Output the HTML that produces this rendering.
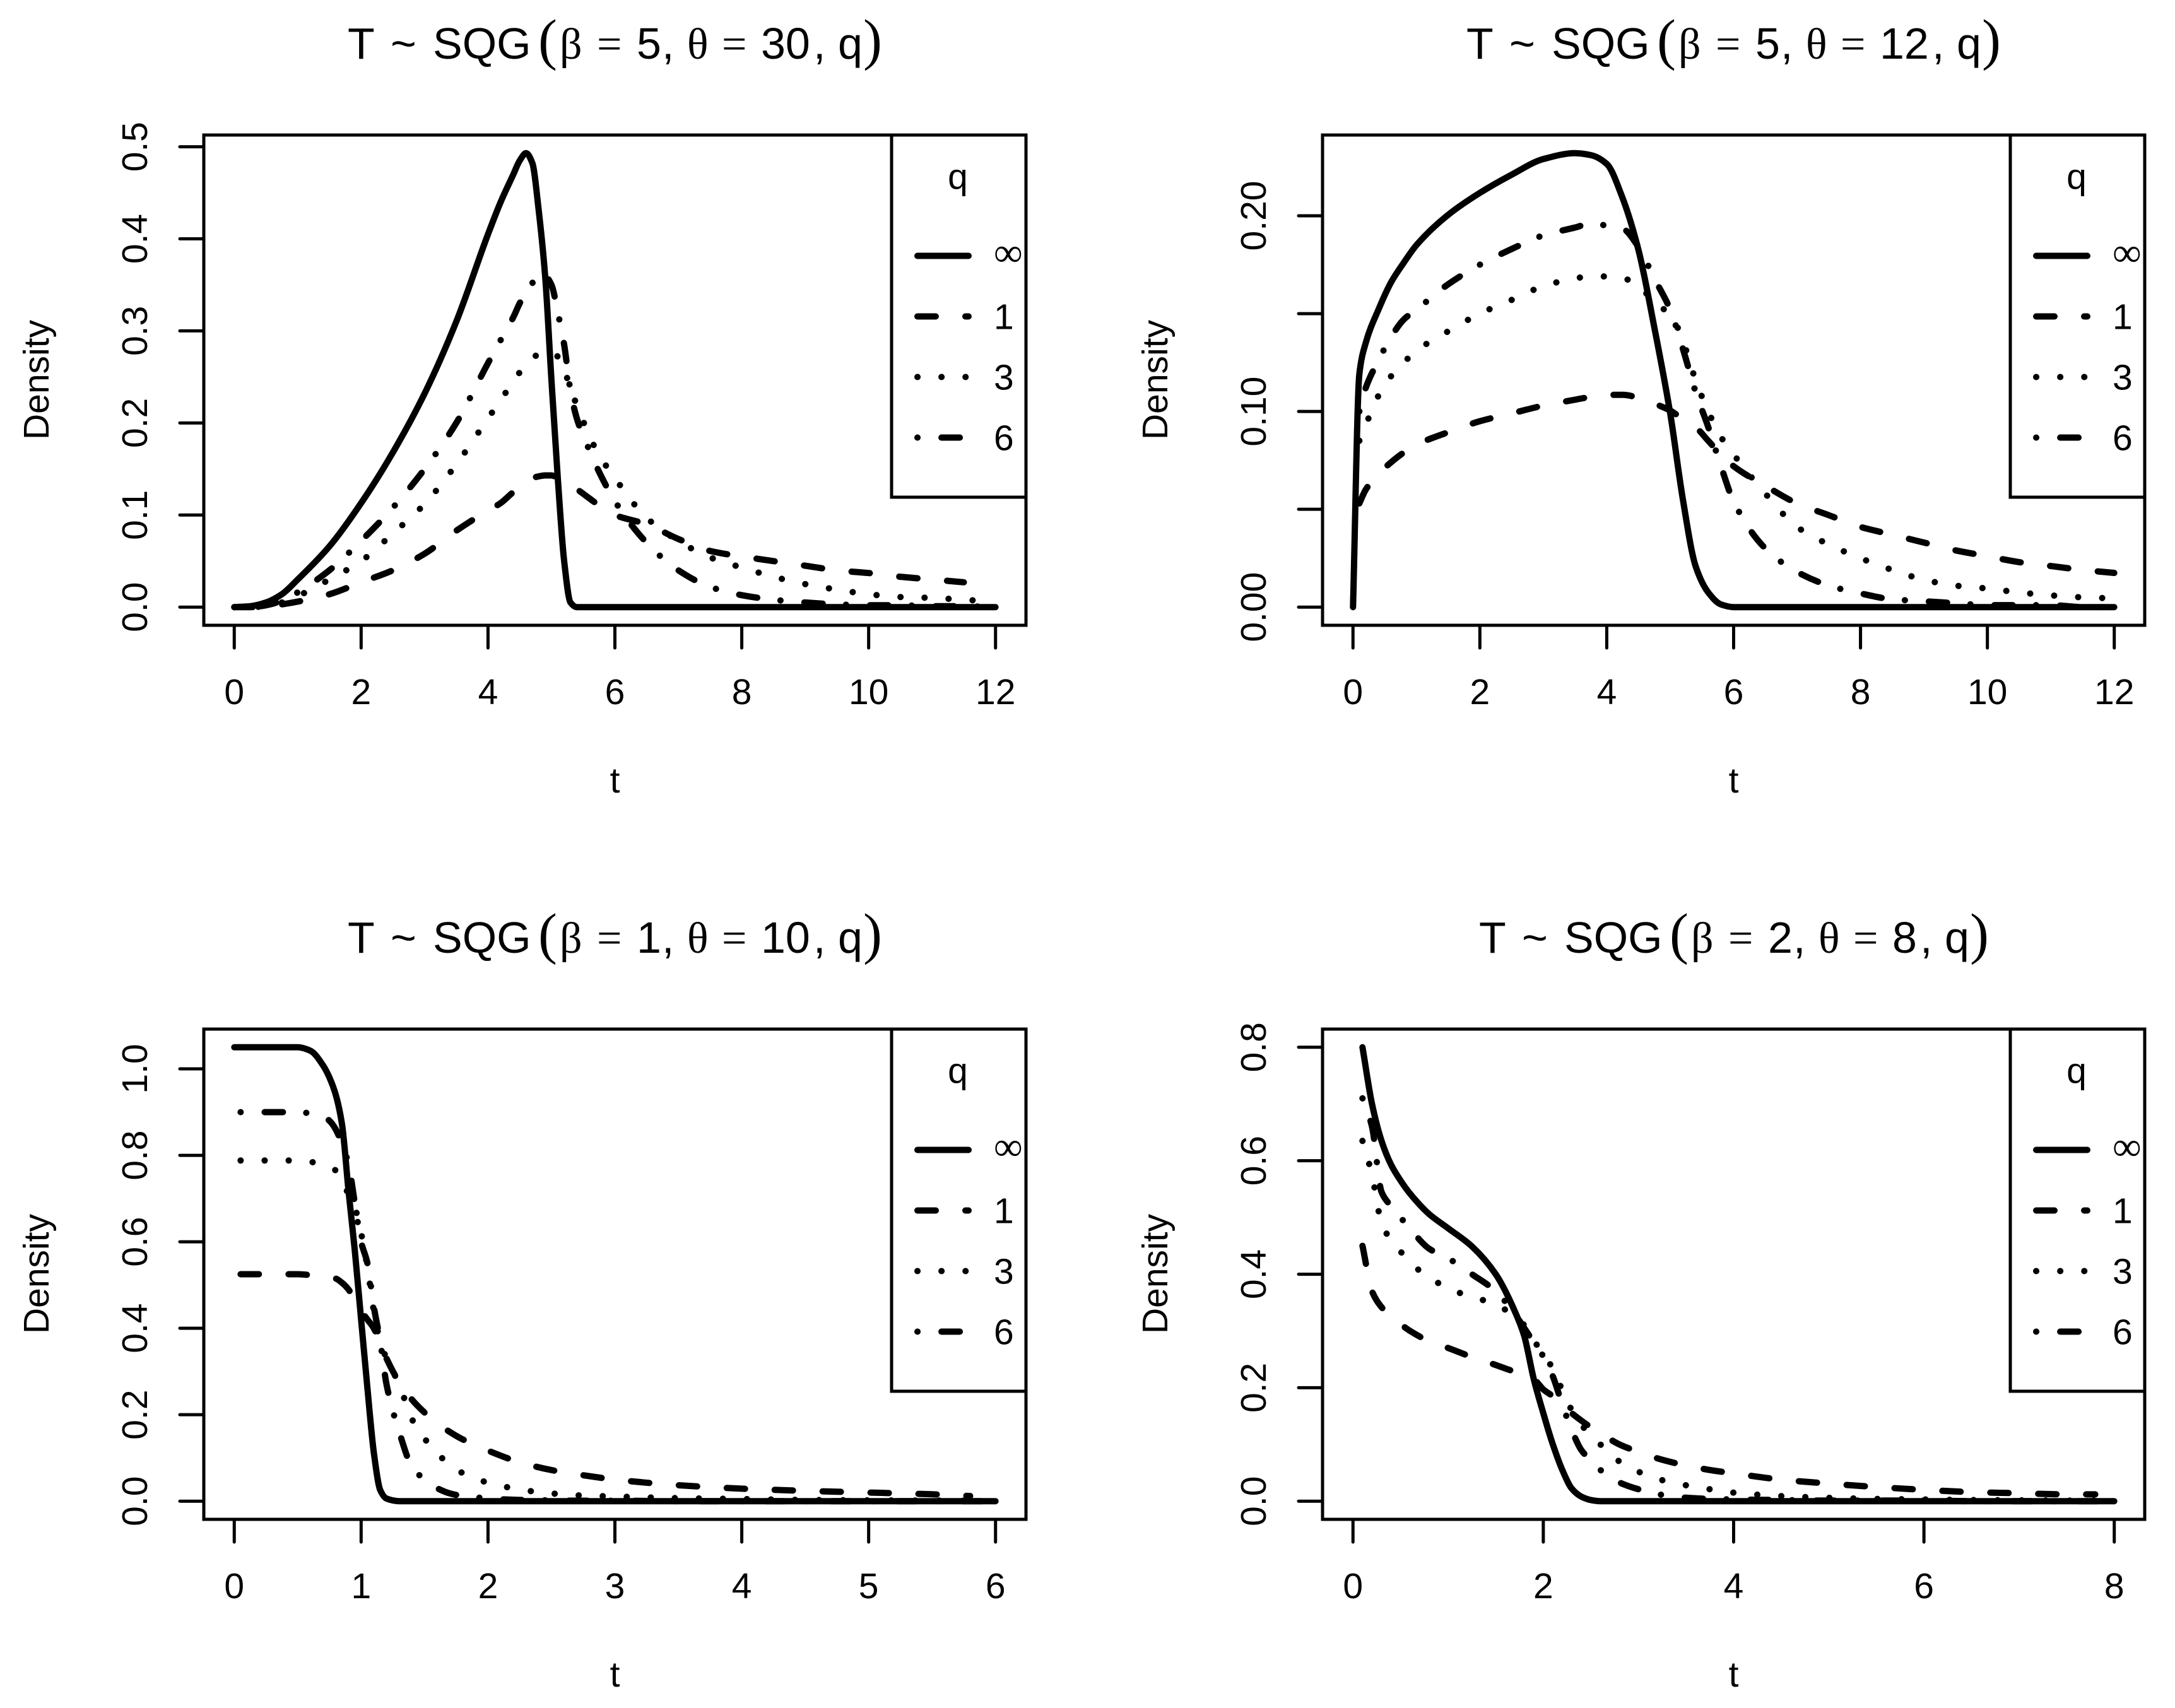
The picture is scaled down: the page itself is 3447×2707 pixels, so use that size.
<!DOCTYPE html>
<html lang="en">
<head>
<meta charset="utf-8">
<title>SQG density curves</title>
<style>
html,body{margin:0;padding:0;background:#fff;}
svg{display:block;}
text{font-family:"Liberation Sans",sans-serif;fill:#000;}
.title{font-size:70px;}
.sym{font-family:"Liberation Serif",serif;}
.paren{font-family:"Liberation Serif",serif;font-size:90px;}
.lab{font-size:57px;}
.inf{font-family:"Liberation Serif",serif;font-size:64px;}
</style>
</head>
<body>
<svg id="fig" xmlns="http://www.w3.org/2000/svg" width="3447" height="2707" viewBox="0 0 3447 2707">
<rect width="3447" height="2707" fill="#fff"/>

<g id="panel-0" transform="translate(0,0)">
<text class="title" y="93"><tspan x="551">T</tspan><tspan x="619">~</tspan><tspan x="686">SQG</tspan><tspan x="853" class="paren">(</tspan><tspan x="887" class="sym">β</tspan><tspan x="946" class="sym">=</tspan><tspan x="1009">5</tspan><tspan x="1049">,</tspan><tspan x="1089" class="sym">θ</tspan><tspan x="1144" class="sym">=</tspan><tspan x="1206">30</tspan><tspan x="1289">,</tspan><tspan x="1328">q</tspan><tspan x="1368" class="paren">)</tspan></text>
<text class="lab" x="974.5" y="1256" text-anchor="middle">t</text>
<text class="lab" transform="translate(77,602) rotate(-90)" text-anchor="middle">Density</text>
</g>

<g id="panel-1" transform="translate(1773,0)">
<text class="title" y="93"><tspan x="551">T</tspan><tspan x="619">~</tspan><tspan x="686">SQG</tspan><tspan x="853" class="paren">(</tspan><tspan x="887" class="sym">β</tspan><tspan x="946" class="sym">=</tspan><tspan x="1009">5</tspan><tspan x="1049">,</tspan><tspan x="1089" class="sym">θ</tspan><tspan x="1144" class="sym">=</tspan><tspan x="1206">12</tspan><tspan x="1289">,</tspan><tspan x="1328">q</tspan><tspan x="1368" class="paren">)</tspan></text>
<text class="lab" x="974.5" y="1256" text-anchor="middle">t</text>
<text class="lab" transform="translate(77,602) rotate(-90)" text-anchor="middle">Density</text>
</g>

<g id="panel-2" transform="translate(0,1417)">
<text class="title" y="93"><tspan x="551">T</tspan><tspan x="619">~</tspan><tspan x="686">SQG</tspan><tspan x="853" class="paren">(</tspan><tspan x="887" class="sym">β</tspan><tspan x="946" class="sym">=</tspan><tspan x="1009">1</tspan><tspan x="1049">,</tspan><tspan x="1089" class="sym">θ</tspan><tspan x="1144" class="sym">=</tspan><tspan x="1206">10</tspan><tspan x="1289">,</tspan><tspan x="1328">q</tspan><tspan x="1368" class="paren">)</tspan></text>
<text class="lab" x="974.5" y="1256" text-anchor="middle">t</text>
<text class="lab" transform="translate(77,602) rotate(-90)" text-anchor="middle">Density</text>
</g>

<g id="panel-3" transform="translate(1773,1417)">
<text class="title" y="93"><tspan x="571">T</tspan><tspan x="639">~</tspan><tspan x="706">SQG</tspan><tspan x="873" class="paren">(</tspan><tspan x="907" class="sym">β</tspan><tspan x="966" class="sym">=</tspan><tspan x="1029">2</tspan><tspan x="1069">,</tspan><tspan x="1109" class="sym">θ</tspan><tspan x="1164" class="sym">=</tspan><tspan x="1226">8</tspan><tspan x="1270">,</tspan><tspan x="1309">q</tspan><tspan x="1349" class="paren">)</tspan></text>
<text class="lab" x="974.5" y="1256" text-anchor="middle">t</text>
<text class="lab" transform="translate(77,602) rotate(-90)" text-anchor="middle">Density</text>
</g>
</svg>

<script>
// Panel 1: beta=5, theta=30
const p0T = [0,.25,.5,.75,1,1.5,2,2.5,3,3.5,4,4.2,4.4,4.5,4.6,4.7,4.8,4.9,5,5.1,5.2,5.3,5.4,5.6,5.8,6,6.5,7,7.5,8,8.5,9,9.5,10,10.5,11,11.5,12];
const p0Inf = [0,.001,.005,.014,.03,.066,.113,.168,.232,.31,.405,.44,.47,.485,.493,.482,.43,.36,.246,.14,.05,.005,0,0,0,0,0,0,0,0,0,0,0,0,0,0,0,0];
const p0Q1 = [0,0,.001,.003,.006,.014,.027,.04,.058,.083,.105,.113,.125,.13,.135,.14,.142,.143,.143,.14,.136,.132,.128,.118,.108,.10,.09,.074,.061,.055,.05,.045,.04,.037,.033,.03,.027,null];
const p0Q3 = [0,0,.001,.005,.012,.03,.05,.08,.112,.155,.205,.225,.245,.255,.263,.27,.275,.277,.277,.272,.26,.235,.22,.185,.16,.14,.097,.072,.054,.043,.033,.025,.019,.014,.011,.01,.008,.006];
const p0Q6 = [0,0,.002,.007,.016,.04,.072,.108,.15,.2,.265,.29,.315,.33,.342,.352,.363,.36,.35,.32,.285,.235,.205,.17,.14,.115,.07,.04,.022,.013,.008,.005,.003,.002,.002,.001,.001,0];
// Panel 2: beta=5, theta=12
const p1T = [0,.1,.2,.4,.6,.8,1,1.5,2,2.5,3,3.5,3.75,4,4.25,4.5,4.75,5,5.2,5.4,5.6,5.8,6,6.5,7,7.5,8,8.5,9,9.5,10,10.5,11,11.5,12];
const p1Inf = [0,.119,.135,.152,.166,.176,.185,.2005,.2117,.221,.229,.232,.231,.2265,.209,.1825,.143,.099,.055,.021,.0075,.0014,0,0,0,0,0,0,0,0,0,0,0,0,0];
const p1Q1 = [null,.053,.06,.068,.074,.079,.083,.0894,.095,.099,.103,.106,.1075,.1085,.1085,.107,.104,.1005,.096,.092,.085,.078,.072,.062,.053,.047,.041,.037,.033,.029,.026,.023,.021,.019,.0175];
const p1Q3 = [null,.085,.093,.108,.118,.125,.131,.141,.15,.157,.164,.168,.169,.169,.168,.165,.155,.15,.136,.116,.10,.087,.078,.058,.041,.032,.025,.019,.014,.011,.0095,.0075,.006,.005,.0045];
const p1Q6 = [null,.1,.112,.126,.138,.147,.152,.165,.175,.183,.19,.194,.196,.195,.1935,.184,.168,.152,.132,.11,.092,.072,.054,.03,.018,.011,.007,.004,.003,.002,.001,.001,.001,0,0];
// Panel 3: beta=1, theta=10
const p2T = [0,.05,.3,.5,.6,.7,.75,.8,.85,.9,.95,1,1.05,1.1,1.15,1.2,1.3,1.4,1.5,1.6,1.7,1.8,1.9,2,2.25,2.5,2.75,3,3.5,4,4.5,5,5.5,5.8,6];
const p2Inf = [1.05,1.05,1.05,1.05,1.042,1.008,.98,.94,.87,.72,.58,.42,.26,.113,.026,.006,0,0,0,0,0,0,0,0,0,0,0,0,0,0,0,0,0,0,0];
const p2Q1 = [null,.525,.525,.525,.523,.52,.518,.515,.505,.49,.465,.44,.42,.40,.365,.33,.275,.235,.205,.18,.16,.143,.13,.117,.09,.072,.06,.05,.037,.029,.024,.02,.016,.012,null];
const p2Q3 = [null,.788,.788,.788,.785,.778,.772,.765,.74,.71,.68,.62,.54,.44,.37,.33,.27,.19,.145,.11,.085,.065,.052,.043,.027,.018,.013,.011,.007,.005,.003,.002,.0015,.001,null];
const p2Q6 = [null,.9,.9,.9,.897,.89,.88,.86,.825,.78,.69,.60,.55,.45,.37,.27,.16,.08,.05,.03,.018,.012,.009,.006,.003,.002,.001,.001,0,0,0,0,0,0,0];
// Panel 4: beta=2, theta=8
const p3T = [.1,.2,.3,.4,.5,.6,.8,1,1.25,1.5,1.7,1.8,1.9,2,2.1,2.2,2.3,2.4,2.5,2.6,2.8,3,3.25,3.5,3.75,4,4.5,5,5.5,6,6.5,7,7.5,7.8,8];
const p3Inf = [.8,.70,.635,.593,.565,.542,.506,.481,.449,.40,.335,.291,.215,.155,.10,.055,.022,.008,.002,0,0,0,0,0,0,0,0,0,0,0,0,0,0,0,0];
const p3Q1 = [.45,.37,.342,.325,.312,.30,.282,.27,.254,.24,.228,.222,.215,.197,.185,.17,.155,.142,.13,.12,.10,.087,.073,.063,.055,.049,.038,.031,.025,.02,.016,.014,.012,.012,null];
const p3Q3 = [.635,.575,.49,.46,.44,.42,.395,.375,.36,.347,.325,.31,.285,.255,.235,.195,.16,.135,.115,.10,.07,.052,.037,.028,.021,.015,.009,.006,.004,.003,.002,.0015,.001,.001,null];
const p3Q6 = [.71,.66,.545,.52,.50,.48,.445,.428,.40,.37,.33,.305,.28,.255,.22,.17,.125,.09,.072,.055,.033,.021,.011,.006,.004,.003,.002,.001,.001,.001,0,0,0,0,0];

// Axis ticks and labels
const p0XTicks = [0,2,4,6,8,10,12];
const p1XTicks = [0,2,4,6,8,10,12];
const p2XTicks = [0,1,2,3,4,5,6];
const p3XTicks = [0,2,4,6,8];
const p0YTicks = [0,.1,.2,.3,.4,.5];
const p1YTicks = [0,.05,.1,.15,.2];
const p2YTicks = [0,.2,.4,.6,.8,1];
const p3YTicks = [0,.2,.4,.6,.8];
const p0YLabels = ["0.0","0.1","0.2","0.3","0.4","0.5"];
const p1YLabels = ["0.00","","0.10","","0.20"];
const p2YLabels = ["0.0","0.2","0.4","0.6","0.8","1.0"];
const p3YLabels = ["0.0","0.2","0.4","0.6","0.8"];
const xMaxes = [12,12,6,8];
const yMaxes = [.493,.232,1.05,.8];
const legendLabels = ["∞","1","3","6"];
const seriesNames = ["q-infinity","q-1","q-3","q-6"];

const panels = [
  {t:p0T, s:[p0Inf,p0Q1,p0Q3,p0Q6], xt:p0XTicks, yt:p0YTicks, yl:p0YLabels},
  {t:p1T, s:[p1Inf,p1Q1,p1Q3,p1Q6], xt:p1XTicks, yt:p1YTicks, yl:p1YLabels},
  {t:p2T, s:[p2Inf,p2Q1,p2Q3,p2Q6], xt:p2XTicks, yt:p2YTicks, yl:p2YLabels},
  {t:p3T, s:[p3Inf,p3Q1,p3Q3,p3Q6], xt:p3XTicks, yt:p3YTicks, yl:p3YLabels}
];

const NS = "http://www.w3.org/2000/svg";
const FL = 323, FR = 1626, FT = 214, FB = 991;
const PADX = (FR - FL) / 1.08 * 0.04, PADY = (FB - FT) / 1.08 * 0.04;
const LW = 10;
const dashes = ["none", "29 47", "0.1 38", "0.1 38 29 37"];

function mk(tag, attrs, parent) {
  const el = document.createElementNS(NS, tag);
  for (const k in attrs) el.setAttribute(k, attrs[k]);
  parent.appendChild(el);
  return el;
}

// Monotone cubic path through the data points, so no overshoot at sharp bends.
function monotonePath(pts) {
  const n = pts.length;
  const dx = [], sl = [], m = [];
  for (let i = 0; i < n - 1; i++) {
    dx[i] = pts[i + 1][0] - pts[i][0];
    sl[i] = (pts[i + 1][1] - pts[i][1]) / dx[i];
  }
  m[0] = sl[0];
  m[n - 1] = sl[n - 2];
  for (let i = 1; i < n - 1; i++) {
    if (sl[i - 1] * sl[i] <= 0) { m[i] = 0; continue; }
    const w1 = 2 * dx[i] + dx[i - 1], w2 = dx[i] + 2 * dx[i - 1];
    m[i] = (w1 + w2) / (w1 / sl[i - 1] + w2 / sl[i]);
  }
  let d = "M" + pts[0][0].toFixed(1) + " " + pts[0][1].toFixed(1);
  for (let i = 0; i < n - 1; i++) {
    const h = dx[i] / 3;
    d += "C" + (pts[i][0] + h).toFixed(1) + " " + (pts[i][1] + m[i] * h).toFixed(1) + " " +
         (pts[i + 1][0] - h).toFixed(1) + " " + (pts[i + 1][1] - m[i + 1] * h).toFixed(1) + " " +
         pts[i + 1][0].toFixed(1) + " " + pts[i + 1][1].toFixed(1);
  }
  return d;
}

panels.forEach(function (p, i) {
  const g = document.getElementById("panel-" + i);
  const xS = function (v) { return FL + PADX + v / xMaxes[i] * (FR - FL - 2 * PADX); };
  const yS = function (v) { return FB - PADY - v / yMaxes[i] * (FB - FT - 2 * PADY); };

  // curves
  p.s.forEach(function (vals, k) {
    const pts = [];
    vals.forEach(function (v, j) {
      if (v === null) return;
      pts.push([xS(p.t[j]), yS(v)]);
    });
    const path = mk("path", {d: monotonePath(pts), fill: "none", stroke: "#000", "stroke-width": LW, "stroke-linecap": "round", "stroke-linejoin": "round", "stroke-dasharray": dashes[k]}, g);
    
    
  });

  // frame
  const frame = mk("rect", {x: FL, y: FT, width: FR - FL, height: FB - FT, fill: "none", stroke: "#000", "stroke-width": 5}, g);
  
  

  // x axis
  p.xt.forEach(function (v) {
    const tick = mk("line", {x1: xS(v), x2: xS(v), y1: FB, y2: FB + 36, stroke: "#000", "stroke-width": 5, "stroke-linecap": "round"}, g);
    
    
    const lbl = mk("text", {x: xS(v), y: 1116, "text-anchor": "middle", "class": "lab"}, g);
    lbl.textContent = String(v);
    
    
  });

  // y axis
  p.yt.forEach(function (v, j) {
    const tick = mk("line", {x1: FL, x2: FL - 38, y1: yS(v), y2: yS(v), stroke: "#000", "stroke-width": 5, "stroke-linecap": "round"}, g);
    
    
    if (p.yl[j]) {
      const lbl = mk("text", {transform: "translate(233," + yS(v).toFixed(1) + ") rotate(-90)", "text-anchor": "middle", "class": "lab"}, g);
      lbl.textContent = p.yl[j];
      
      
    }
  });

  // legend
  const leg = mk("g", {}, g);
  
  
  const box = mk("path", {d: "M1413 " + FT + "V788H" + FR, fill: "none", stroke: "#000", "stroke-width": 5}, leg);
  
  
  const head = mk("text", {x: 1518, y: 299, "text-anchor": "middle", "class": "lab"}, leg);
  head.textContent = "q";
  
  
  legendLabels.forEach(function (lab, k) {
    const yRow = 405.5 + k * 96;
    const ln = mk("line", {x1: 1454, x2: 1535, y1: yRow, y2: yRow, stroke: "#000", "stroke-width": LW, "stroke-linecap": "round", "stroke-dasharray": dashes[k]}, leg);
    
    
    const tx = mk("text", {x: 1575, y: k === 0 ? yRow + 16 : yRow + 20, "class": k === 0 ? "inf" : "lab"}, leg);
    tx.textContent = lab;
    
    
  });
});
</script>
</body>
</html>
